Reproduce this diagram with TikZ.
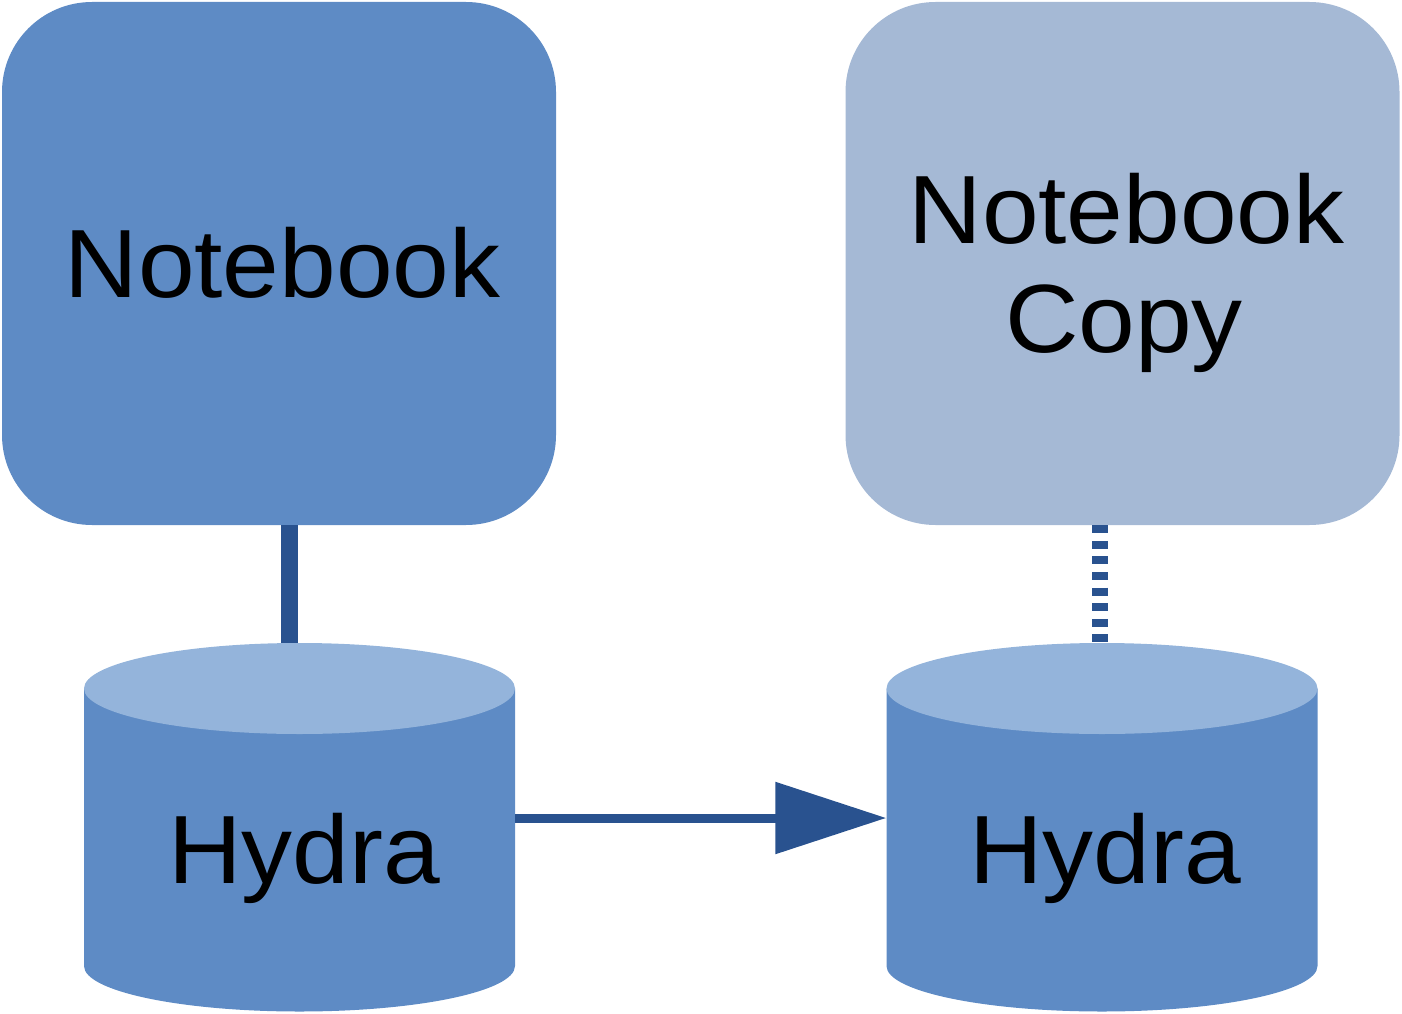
\documentclass[tikz,border=0pt]{standalone}
\usepackage{fontspec}
\newfontfamily\lblfont[FakeStretch=1.05]{Liberation Sans}
\usetikzlibrary{arrows.meta}
\definecolor{nbcol}{HTML}{5E8BC5}
\definecolor{nblight}{HTML}{A5B9D5}
\definecolor{cyltopcol}{HTML}{94B4DB}
\definecolor{linecol}{HTML}{29528F}
\tikzset{
  nbbox/.style={rectangle,inner sep=0pt,minimum width=554pt,minimum height=523pt,rounded corners=90pt},
  lbl/.style={inner sep=0pt,anchor=base,font=\lblfont\fontsize{97pt}{109pt}\selectfont,text=black},
  cylframe/.style={inner sep=0pt,minimum width=431pt,minimum height=368pt},
  conn/.style={draw=linecol,line width=17pt},
  dconn/.style={draw=linecol,line width=16pt,dash pattern=on 8pt off 7.6pt},
}
\newcommand{\drawcylinder}[2]{%
  \fill[nbcol] (#1-215.5,688.5) -- (#1-215.5,966)
    arc[start angle=180,end angle=360,x radius=215.5pt,y radius=45.5pt]
    -- (#1+215.5,688.5) -- cycle;
  \fill[cyltopcol] (#1,688.5) ellipse[x radius=215.5pt,y radius=45.5pt];
  \node[cylframe] (#2) at (#1,827) {};
}
\begin{document}
\begin{tikzpicture}[x=1pt,y=-1pt]
\useasboundingbox (0,0) rectangle (1402,1014);
% boxes
\node[nbbox,fill=nbcol] (nb1) at (279,263.5) {};
\node[nbbox,fill=nblight] (nb2) at (1122.5,263.5) {};
\node[lbl] (nb1t) at (282.5,297) {Notebook};
\node[lbl] (nb2t) at (1126.5,243) {Notebook};
\node[lbl] (nb2c) at (1124,352) {Copy};
% cylinders
\drawcylinder{299.5}{hy1}
\drawcylinder{1102}{hy2}
\node[lbl] (hy1t) at (304,883) {Hydra};
\node[lbl] (hy2t) at (1105,883) {Hydra};
% connectors
\coordinate (c1) at ([xshift=10.5pt]nb1.south);
\draw[conn] (c1) -- (c1 |- hy1.north);
\coordinate (c2) at ([xshift=-23pt]nb2.south);
\draw[dconn] (c2) -- (c2 |- hy2.north);
\draw[draw=linecol,line width=9pt,-{Triangle[length=111pt,width=70pt]},fill=linecol]
  ([yshift=9pt]hy1.east) -- ([yshift=9pt]hy2.west);
\end{tikzpicture}
\end{document}
